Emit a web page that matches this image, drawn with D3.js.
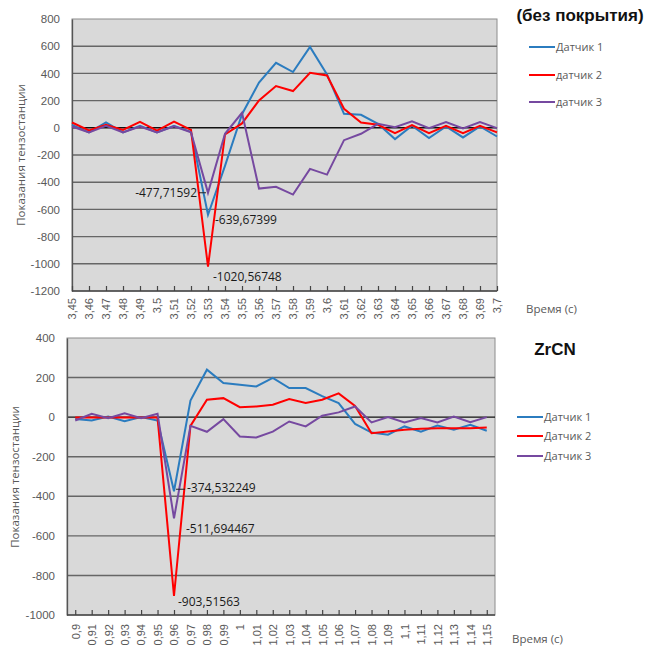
<!DOCTYPE html>
<html>
<head>
<meta charset="utf-8">
<script src="https://cdn.jsdelivr.net/npm/d3@7"></script>
<style>
  html, body { margin: 0; padding: 0; background: #fff; }
  svg { display: block; font-family: "Open Sans", "DejaVu Sans", sans-serif; }
</style>
</head>
<body>
<svg id="chart" width="648" height="648"></svg>
<script>
// ---- Uncoated sample ----
const timesA = ["3,45","3,46","3,47","3,48","3,49","3,5","3,51","3,52","3,53","3,54","3,55","3,56","3,57",
                "3,58","3,59","3,6","3,61","3,62","3,63","3,64","3,65","3,66","3,67","3,68","3,69","3,7"];
const sensor1A = [22,-34,39,-34,15,-34,15,-30,-639.67399,-280,100,333,478,410,595,393,103,96,29,-83,15,-76,10,-71,10,-64];
const sensor2A = [39,-20,22,-15,44,-20,46,-16,-1020.56748,-49,32,201,307,270,405,385,140,39,22,-39,20,-39,15,-39,15,-34];
const sensor3A = [10,-34,15,-34,10,-34,11,-33,-477.71592,-44,110,-447,-434,-491,-302,-344,-91,-44,29,5,47,-2,42,-5,42,-2];
const yTicksA = [800,600,400,200,0,-200,-400,-600,-800,-1000,-1200];

// ---- ZrCN coated sample ----
const timesB = ["0,9","0,91","0,92","0,93","0,94","0,95","0,96","0,97","0,98","0,99","1","1,01","1,02",
                "1,03","1,04","1,05","1,06","1,07","1,08","1,09","1,1","1,11","1,12","1,13","1,14","1,15"];
const sensor1B = [-10,-17,3,-20,0,-17,-374.532249,84,240,172,164,155,198,147,147,106,71,-34,-78,-89,-47,-73,-42,-64,-39,-69];
const sensor2B = [-2,-2,-2,-2,-2,-2,-903.51563,-44,88,96,50,54,63,91,71,88,120,57,-81,-73,-64,-59,-56,-56,-56,-52];
const sensor3B = [-17,17,-5,20,-5,17,-511.694467,-44,-74,-10,-98,-103,-73,-22,-47,7,24,54,-27,0,-27,-5,-27,3,-25,0];
const yTicksB = [400,200,0,-200,-400,-600,-800,-1000];

const colors = ["#2b7cbf", "#ff0000", "#7649a0"];
const svg = d3.select("#chart");

function drawPanel(cfg) {
  const g = svg.append("g");
  const y = d3.scaleLinear().domain([cfg.yTicks[cfg.yTicks.length - 1], cfg.yTicks[0]])
    .range([cfg.bottom, cfg.top]);
  const x = d3.scalePoint().domain(cfg.times).range([cfg.left, cfg.right]).padding(cfg.pad);

  // plot area background
  g.append("rect").attr("x", cfg.left).attr("y", cfg.top)
    .attr("width", cfg.right - cfg.left).attr("height", cfg.bottom - cfg.top)
    .attr("fill", "#d9d9d9").attr("stroke", "#8c8c8c").attr("stroke-width", 1);

  // horizontal gridlines
  g.selectAll("line.grid").data(cfg.yTicks.slice(1, -1)).join("line")
    .attr("class", "grid")
    .attr("x1", cfg.left).attr("x2", cfg.right)
    .attr("y1", d => y(d)).attr("y2", d => y(d))
    .attr("stroke", d => d === 0 ? "#111" : "#666")
    .attr("stroke-width", 1.4);

  // y axis
  const yAxis = g.append("g").attr("transform", `translate(${cfg.left},0)`)
    .call(d3.axisLeft(y).tickValues(cfg.yTicks).tickFormat(d => String(d))
      .tickSize(0).tickPadding(cfg.yPad));
  yAxis.select(".domain").attr("stroke", "#555").attr("stroke-width", 1.3);
  yAxis.selectAll("text").attr("fill", "#595959").style("font-size", "11.5px");

  // x axis with inside tick marks and vertical labels
  const xAxis = g.append("g").attr("transform", `translate(0,${cfg.bottom})`)
    .call(d3.axisBottom(x).tickSizeInner(-5).tickSizeOuter(0).tickPadding(0));
  xAxis.select(".domain").attr("stroke", "#444").attr("stroke-width", 1.3)
    .attr("d", `M${cfg.left},0H${cfg.right}`);
  xAxis.selectAll(".tick line").attr("stroke", "#444").attr("stroke-width", 1.2);
  xAxis.selectAll("text")
    .attr("fill", "#595959").style("font-size", "11px")
    .attr("transform", "rotate(-90)")
    .attr("x", -cfg.xLabelGap).attr("y", 0).attr("dy", "0.35em")
    .attr("text-anchor", "end");

  // series lines
  const line = d3.line().x((d, i) => x(cfg.times[i])).y(d => y(d));
  cfg.series.forEach((s, k) => {
    g.append("path").datum(s).attr("d", line)
      .attr("fill", "none").attr("stroke", colors[k]).attr("stroke-width", 2)
      .attr("stroke-linejoin", "miter");
  });

  // data labels on the minima
  cfg.labels.forEach(l => {
    const v = cfg.series[l.s][l.i];
    const px = x(cfg.times[l.i]), py = y(v);
    const txt = v.toFixed(l.dec).replace(".", ",");
    g.append("text").attr("x", px + l.dx).attr("y", py + l.dy).attr("dy", "0.35em")
      .attr("text-anchor", l.anchor).attr("fill", "#1a1a1a").style("font-size", "12px")
      .text(txt);
    if (l.leader) {
      g.append("line").attr("x1", px + l.leader[0]).attr("x2", px + l.leader[1])
        .attr("y1", py + l.leader[2]).attr("y2", py + l.leader[2])
        .attr("stroke", "#222").attr("stroke-width", 1);
    }
  });

  // axis titles
  g.append("text")
    .attr("transform", `translate(${cfg.yTitleX},${cfg.yTitleY}) rotate(-90)`)
    .attr("text-anchor", "middle").attr("dy", "0.35em")
    .attr("fill", "#595959").style("font-size", "11.5px")
    .text("Показания тензостанции");
  g.append("text").attr("x", cfg.xTitleX).attr("y", cfg.xTitleY).attr("dy", "0.35em")
    .attr("fill", "#595959").style("font-size", "11.5px").text("Время (с)");

  // panel title
  g.append("text").attr("x", cfg.titleX).attr("y", cfg.titleY).attr("dy", "0.35em")
    .attr("text-anchor", "middle")
    .style("font-family", "'Liberation Sans', Arial, sans-serif")
    .style("font-weight", "bold").style("font-size", cfg.titleSize)
    .attr("fill", "#111").text(cfg.title);

  // legend
  cfg.legend.forEach((name, k) => {
    const ly = cfg.legendY[k];
    g.append("line").attr("x1", cfg.legendX).attr("x2", cfg.legendX + 26)
      .attr("y1", ly).attr("y2", ly).attr("stroke", colors[k]).attr("stroke-width", 2);
    g.append("text").attr("x", cfg.legendX + 27).attr("y", ly).attr("dy", "0.35em")
      .attr("fill", "#595959").style("font-size", "11px").text(name);
  });
}

drawPanel({
  times: timesA, series: [sensor1A, sensor2A, sensor3A], yTicks: yTicksA,
  left: 72, right: 497, top: 19, bottom: 291, pad: 0, yPad: 12, xLabelGap: 7,
  labels: [
    { s: 2, i: 8, dec: 5, dx: -11, dy: 0, anchor: "end", leader: [-9, -2, 0] },
    { s: 0, i: 8, dec: 5, dx: 7, dy: 5, anchor: "start" },
    { s: 1, i: 8, dec: 5, dx: 5, dy: 10, anchor: "start" }
  ],
  yTitleX: 21, yTitleY: 155, xTitleX: 526, xTitleY: 309,
  title: "(без покрытия)", titleX: 580, titleY: 15, titleSize: "17px",
  legend: ["Датчик 1", "датчик 2", "датчик 3"], legendX: 529, legendY: [47, 75, 102]
});

drawPanel({
  times: timesB, series: [sensor1B, sensor2B, sensor3B], yTicks: yTicksB,
  left: 67, right: 495, top: 338, bottom: 615, pad: 0.5, yPad: 12, xLabelGap: 9,
  labels: [
    { s: 0, i: 6, dec: 6, dx: 13, dy: -3, anchor: "start", leader: [2, 11, -2] },
    { s: 2, i: 6, dec: 6, dx: 12, dy: 10, anchor: "start" },
    { s: 1, i: 6, dec: 5, dx: 4, dy: 6, anchor: "start" }
  ],
  yTitleX: 15, yTitleY: 477, xTitleX: 512, xTitleY: 639,
  title: "ZrCN", titleX: 555, titleY: 349, titleSize: "17px",
  legend: ["Датчик 1", "Датчик 2", "Датчик 3"], legendX: 517, legendY: [417, 436, 456]
});
</script>
</body>
</html>
